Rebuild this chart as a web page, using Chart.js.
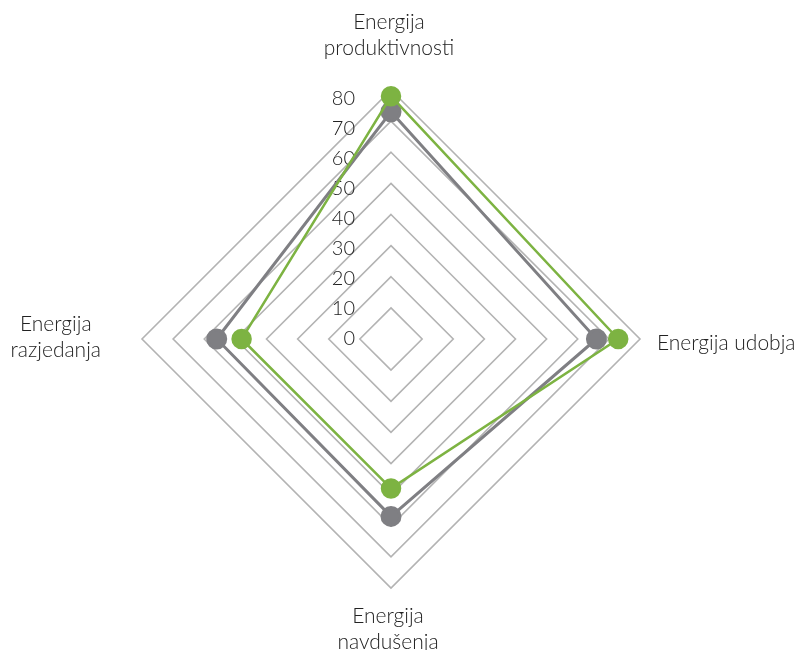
<!DOCTYPE html>
<html>
<head>
<meta charset="utf-8">
<script src="https://cdn.jsdelivr.net/npm/chart.js@4/dist/chart.umd.min.js"></script>
<style>
  html, body { margin: 0; padding: 0; background: #fff; }
  #wrap { width: 796px; height: 650px; position: relative; }
</style>
</head>
<body>
<div id="wrap"><canvas id="radar"></canvas></div>
<script>
// --- PODATKI ---
const categories = [
    ['Energija', 'produktivnosti'],
    ['Energija udobja'],
    ['Energija', 'navdušenja'],
    ['Energija', 'razjedanja']
];
const seriesGreen = [78, 73, 48, 48];
const seriesGray = [73, 66, 57, 56];
const tickValues = [0, 10, 20, 30, 40, 50, 60, 70, 80];

const FONT = 'Lato, "Open Sans", sans-serif';
const TEXT_COLOR = '#222222';

// tick labels sit left of the vertical axis (Excel style)
const tickLabelsPlugin = {
    id: 'tickLabels',
    beforeDatasetsDraw(chart) {
        const s = chart.scales.r;
        const ctx = chart.ctx;
        ctx.save();
        ctx.font = '300 20px ' + FONT;
        ctx.fillStyle = TEXT_COLOR;
        ctx.textAlign = 'right';
        ctx.textBaseline = 'middle';
        tickValues.forEach(v => {
            const d = s.getDistanceFromCenterForValue(v) * 0.966;
            ctx.fillText(String(v), s.xCenter - 36, s.yCenter - d);
        });
        ctx.restore();
    }
};

// category labels round the outer grid
const pointLabelsPlugin = {
    id: 'catLabels',
    afterDraw(chart) {
        const s = chart.scales.r;
        const ctx = chart.ctx;
        const lh = 26;
        ctx.save();
        ctx.font = '300 21px ' + FONT;
        ctx.fillStyle = TEXT_COLOR;
        ctx.textBaseline = 'middle';
        categories.forEach((lines, i) => {
            const p = s.getPointPosition(i, s.drawingArea);
            if (i === 0) {
                ctx.textAlign = 'center';
                lines.forEach((t, j) => ctx.fillText(t, p.x - 2, p.y - 42 - (lines.length - 1 - j) * lh));
            } else if (i === 1) {
                ctx.textAlign = 'left';
                ctx.fillText(lines[0], p.x + 17, p.y + 4);
            } else if (i === 2) {
                ctx.textAlign = 'center';
                lines.forEach((t, j) => ctx.fillText(t, p.x - 3, p.y + 28 + j * lh));
            } else {
                const w = Math.max(...lines.map(t => ctx.measureText(t).width));
                ctx.textAlign = 'center';
                lines.forEach((t, j) => ctx.fillText(t, p.x - 41 - w / 2, p.y - 15 + j * lh));
            }
        });
        ctx.restore();
    }
};

new Chart(document.getElementById('radar'), {
    type: 'radar',
    data: {
        labels: categories,
        datasets: [{
            label: 'Zeleno',
            data: seriesGreen,
            borderColor: '#7db342',
            backgroundColor: 'rgba(0,0,0,0)',
            pointBackgroundColor: '#7db342',
            pointBorderColor: '#7db342',
            borderWidth: 2.5,
            pointRadius: 9,
            fill: false
        }, {
            label: 'Sivo',
            data: seriesGray,
            borderColor: '#7f7f83',
            backgroundColor: 'rgba(0,0,0,0)',
            pointBackgroundColor: '#7f7f83',
            pointBorderColor: '#7f7f83',
            borderWidth: 3,
            pointRadius: 9,
            fill: false
        }]
    },
    options: {
        responsive: true,
        maintainAspectRatio: false,
        animation: false,
        layout: { padding: { left: 142, right: 156, top: 90, bottom: 62 } },
        plugins: { legend: { display: false }, tooltip: { enabled: false } },
        elements: { line: { tension: 0 } },
        scales: {
            r: {
                min: 0,
                max: 80,
                ticks: { stepSize: 10, display: false },
                grid: { color: '#b3b3b3', lineWidth: 1.6 },
                angleLines: { display: false },
                pointLabels: { display: false }
            }
        }
    },
    plugins: [tickLabelsPlugin, pointLabelsPlugin]
});
</script>
</body>
</html>
